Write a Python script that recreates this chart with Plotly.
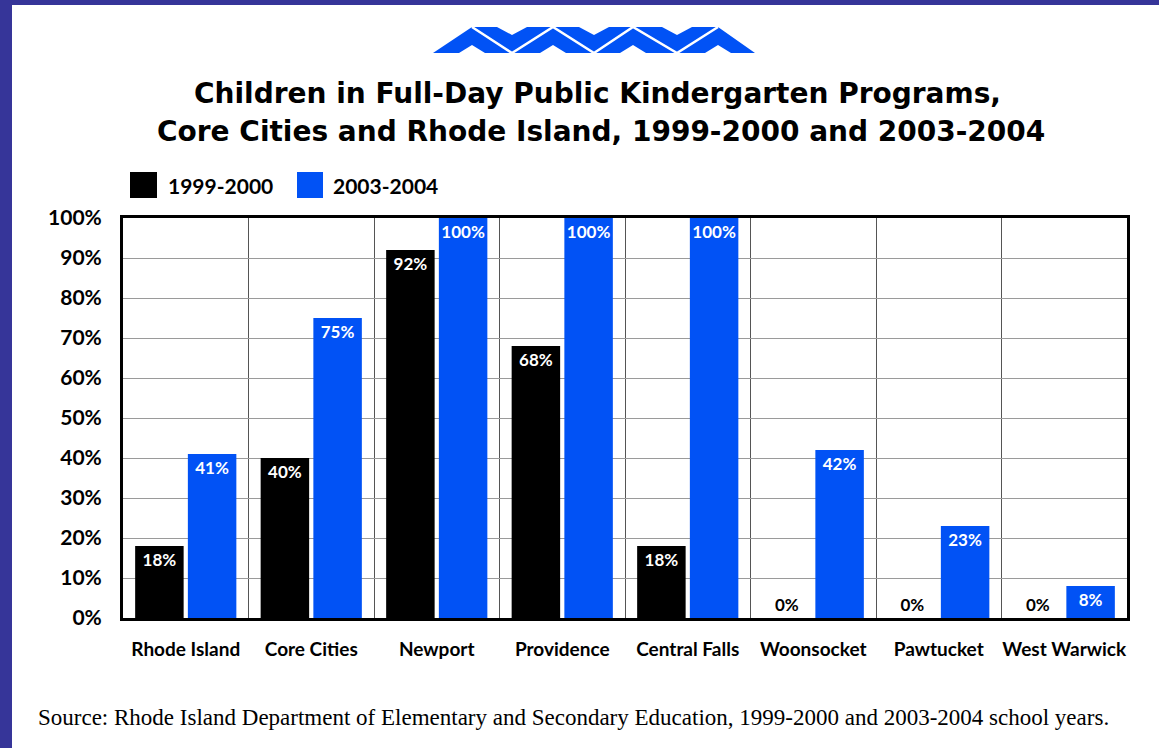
import plotly.graph_objects as go

categories = ["Rhode Island", "Core Cities", "Newport", "Providence",
              "Central Falls", "Woonsocket", "Pawtucket", "West Warwick"]
series_names = ["1999-2000", "2003-2004"]
values_1999 = [18, 40, 92, 68, 18, 0, 0, 0]
values_2003 = [41, 75, 100, 100, 100, 42, 23, 8]
y_ticks = [0, 10, 20, 30, 40, 50, 60, 70, 80, 90, 100]
title_lines = ["Children in Full-Day Public Kindergarten Programs,",
               "Core Cities and Rhode Island, 1999-2000 and 2003-2004"]
source_text = ("Source: Rhode Island Department of Elementary and Secondary Education, "
               "1999-2000 and 2003-2004 school years.")

BLACK = "#000000"
BLUE = "#0152F5"
BORDER = "#363599"
FONT = "Lato"
TFONT = "DejaVu Sans"

W, H = 1159, 748
L, R, T, B = 123, 1127, 218, 618


def px(x):
    return (x - L) / (R - L)


def py(y):
    return (B - y) / (B - T)


def bar_trace(name, vals, color):
    return go.Bar(
        name=name, x=categories, y=vals,
        marker=dict(color=color, line=dict(width=0)),
        text=[f"{v}%" for v in vals],
        textposition=["inside" if v > 0 else "outside" for v in vals],
        insidetextanchor="end",
        constraintext="none",
        textangle=0,
        textfont=dict(family=FONT, size=17, color=["white" if v > 0 else "black" for v in vals],
                      weight="bold"),
        cliponaxis=False,
        showlegend=False,
    )


fig = go.Figure([bar_trace(series_names[0], values_1999, BLACK),
                 bar_trace(series_names[1], values_2003, BLUE)])

shapes = []
# purple frame strips (left and top)
shapes.append(dict(type="rect", xref="paper", yref="paper", x0=px(0), x1=px(12), y0=py(H), y1=py(0),
                   fillcolor=BORDER, line=dict(width=0), layer="above"))
shapes.append(dict(type="rect", xref="paper", yref="paper", x0=px(0), x1=px(W), y0=py(5), y1=py(0),
                   fillcolor=BORDER, line=dict(width=0), layer="above"))

# logo
top, bot = 27, 53
pts = [(433, bot), (472, top), (497, top), (512, top + 8), (527, top), (579, top), (594, top + 8),
       (609, top), (662, top), (677, top + 8), (692, top), (718, top), (755, bot),
       (731, bot), (718, bot - 8), (705, bot), (646, bot), (633, bot - 8), (620, bot),
       (566, bot), (553, bot - 8), (540, bot), (485, bot), (472, bot - 8), (459, bot)]
path = "M " + " L ".join(f"{px(x)},{py(y)}" for x, y in pts) + " Z"
shapes.append(dict(type="path", xref="paper", yref="paper", path=path, fillcolor=BLUE,
                   line=dict(width=0)))
zig = [(472, top), (512, bot), (553, top), (594, bot), (633, top), (677, bot), (718, top)]
zpath = "M " + " L ".join(f"{px(x)},{py(y)}" for x, y in zig)
shapes.append(dict(type="path", xref="paper", yref="paper", path=zpath,
                   line=dict(color="white", width=2.5)))

# legend squares
shapes.append(dict(type="rect", xref="paper", yref="paper", x0=px(130), x1=px(157), y0=py(198), y1=py(172),
                   fillcolor=BLACK, line=dict(width=0)))
shapes.append(dict(type="rect", xref="paper", yref="paper", x0=px(297), x1=px(323), y0=py(198), y1=py(172),
                   fillcolor=BLUE, line=dict(width=0)))

annotations = [
    dict(text=title_lines[0], x=px(597), y=py(94), xref="paper", yref="paper", showarrow=False,
         xanchor="center", yanchor="middle", font=dict(family=TFONT, size=28, color="black", weight="bold")),
    dict(text=title_lines[1], x=px(601), y=py(131), xref="paper", yref="paper", showarrow=False,
         xanchor="center", yanchor="middle", font=dict(family=TFONT, size=28, color="black", weight="bold")),
    dict(text=series_names[0], x=px(166), y=py(185), xref="paper", yref="paper", showarrow=False,
         xanchor="left", yanchor="middle", font=dict(family=FONT, size=21, color="black", weight="bold")),
    dict(text=series_names[1], x=px(331), y=py(185), xref="paper", yref="paper", showarrow=False,
         xanchor="left", yanchor="middle", font=dict(family=FONT, size=21, color="black", weight="bold")),
    dict(text=source_text, x=px(36), y=py(717), xref="paper", yref="paper", showarrow=False,
         xanchor="left", yanchor="middle", font=dict(family="Liberation Serif", size=23, color="black")),
]

fig.update_layout(
    width=W, height=H, autosize=False,
    margin=dict(l=L, r=W - R, t=T, b=H - B, pad=0),
    paper_bgcolor="white", plot_bgcolor="white",
    barmode="group", bargap=0.16, bargroupgap=0.08,
    shapes=shapes, annotations=annotations,
    showlegend=False,
)
fig.update_xaxes(
    type="category", tickson="boundaries", showgrid=True, gridcolor="#555555", gridwidth=1,
    showline=True, linecolor="black", linewidth=3, mirror=True,
    ticks="", ticklabelstandoff=12, tickangle=0,
    tickfont=dict(family=FONT, size=19, color="black", weight="bold"),
)
fig.update_yaxes(
    range=[0, 100], tickvals=y_ticks, ticktext=[f"{v}%" for v in y_ticks],
    showgrid=True, gridcolor="#9a9a9a", gridwidth=1, zeroline=False,
    showline=True, linecolor="black", linewidth=3, mirror=True,
    ticks="", ticklabelstandoff=14,
    tickfont=dict(family=FONT, size=21, color="black", weight="bold"),
)

fig.write_html("out.html", config={"displayModeBar": False},
               post_script="document.body.style.margin='0';document.body.style.overflow='hidden';")
